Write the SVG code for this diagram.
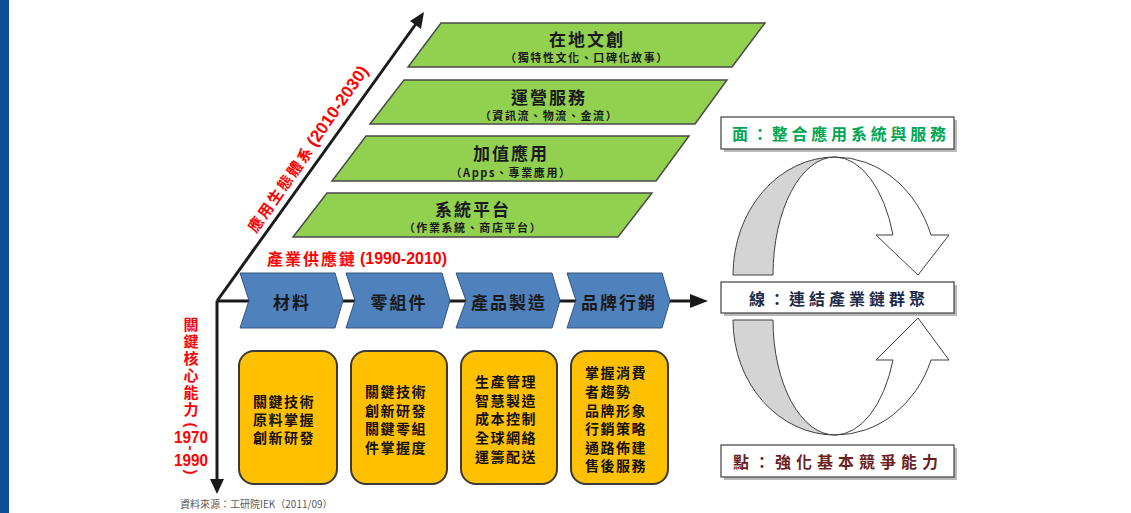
<svg xmlns="http://www.w3.org/2000/svg" width="1131" height="513" viewBox="0 0 1131 513">
<style>
text{font-family:"Noto Sans CJK TC","Noto Sans CJK SC",sans-serif;font-weight:700;dominant-baseline:central}
.para{fill:#92d050;stroke:#4a4a4a;stroke-width:1.5}
.ttl{font-size:17px;letter-spacing:2px;fill:#1a1a1a;text-anchor:middle}
.sub{font-size:11px;letter-spacing:1.6px;fill:#1a1a1a;text-anchor:middle}
.chev{fill:#4f81bd;stroke:#34557f;stroke-width:1}
.ctxt{font-size:17px;letter-spacing:2px;fill:#1a1a1a;text-anchor:middle}
.ybox{fill:#ffc000;stroke:#3a3a3a;stroke-width:2}
.ytxt{font-size:14px;letter-spacing:1.5px;fill:#111}
.red{fill:#ff0000}
.lat{font-family:"Liberation Sans",Arial,sans-serif;font-weight:700}
.vert{writing-mode:vertical-rl}
.axis{stroke:#1a1a1a;stroke-width:3;fill:none}
.ahead{fill:#1a1a1a}
.rbox{fill:#ffffff;stroke:#404040;stroke-width:1.2}
.rshadow{fill:#b8b8b8}
.rtxt{font-size:16px;text-anchor:middle}
.gray{fill:#d4d4d4;stroke:#404040;stroke-width:1}
.white{fill:#ffffff;stroke:#404040;stroke-width:1}
.src{font-size:10px;font-weight:400;fill:#595959}
</style>

<rect x="0" y="0" width="1131" height="513" fill="#ffffff"/>
<rect x="0" y="0" width="9" height="513" fill="#0f4c96"/>

<g id="connectors">
  <line class="axis" x1="217" y1="301" x2="418" y2="21"/>
  <polygon class="ahead" points="424,12 421,29 410,21"/>
  <line class="axis" x1="217" y1="301" x2="692" y2="301"/>
  <polygon class="ahead" points="708,301 690,294 690,308"/>
  <line class="axis" x1="217" y1="301" x2="217" y2="482"/>
  <polygon class="ahead" points="217,494 210,479 224,479"/>
</g>

<g id="axis-labels">
  <g transform="translate(255,224) rotate(-55)">
    <text class="red" x="-7.5" y="0" font-size="15" letter-spacing="2">應用生態體系</text>
    <text class="red lat" x="97" y="0" font-size="17" textLength="94" lengthAdjust="spacingAndGlyphs">(2010-2030)</text>
  </g>
  <text class="red" x="267" y="258" font-size="16" letter-spacing="2">產業供應鏈</text>
  <text class="red lat" x="360" y="258" font-size="17" textLength="87" lengthAdjust="spacingAndGlyphs">(1990-2010)</text>
  <text class="red vert" x="191" y="316.5" font-size="15" letter-spacing="2">關鍵核心能力</text>
  <g text-anchor="middle">
    <text class="red lat" font-size="15" transform="translate(191,425) rotate(90)">(</text>
    <text class="red lat" x="191" y="437" font-size="17" textLength="34" lengthAdjust="spacingAndGlyphs">1970</text>
    <text class="red lat" font-size="15" transform="translate(191,448) rotate(90)">-</text>
    <text class="red lat" x="191" y="460" font-size="17" textLength="34" lengthAdjust="spacingAndGlyphs">1990</text>
    <text class="red lat" font-size="15" transform="translate(191,472) rotate(90)">)</text>
  </g>
</g>

<g id="layer-1">
  <polygon class="para" points="441,23 765,23 732,67 408,67"/>
  <text class="ttl" x="587" y="38">在地文創</text>
  <text class="sub" x="587" y="57">（獨特性文化、口碑化故事）</text>
</g>
<g id="layer-2">
  <polygon class="para" points="404,80 727,80 695,124 370,124"/>
  <text class="ttl" x="549" y="96">運營服務</text>
  <text class="sub" x="549" y="115">（資訊流、物流、金流）</text>
</g>
<g id="layer-3">
  <polygon class="para" points="366,136 689,136 656,181 332,181"/>
  <text class="ttl" x="511" y="152">加值應用</text>
  <text class="sub" x="511" y="172">（Apps、專業應用）</text>
</g>
<g id="layer-4">
  <polygon class="para" points="327,193 652,193 618,237 293,237"/>
  <text class="ttl" x="473" y="208">系統平台</text>
  <text class="sub" x="473" y="227">（作業系統、商店平台）</text>
</g>

<g id="chain-1">
  <polygon class="chev" points="240,273 335,273 343,300.5 335,328 240,328 249,300.5"/>
  <text class="ctxt" x="292" y="301">材料</text>
</g>
<g id="chain-2">
  <polygon class="chev" points="346,273 442,273 450,300.5 442,328 346,328 355,300.5"/>
  <text class="ctxt" x="399" y="301">零組件</text>
</g>
<g id="chain-3">
  <polygon class="chev" points="456,273 552,273 560,300.5 552,328 456,328 466,300.5"/>
  <text class="ctxt" x="509" y="301">產品製造</text>
</g>
<g id="chain-4">
  <polygon class="chev" points="567,273 662,273 670,300.5 662,328 567,328 576,300.5"/>
  <text class="ctxt" x="619" y="301">品牌行銷</text>
</g>

<g id="box-1">
  <rect class="ybox" x="239" y="351" width="98" height="133" rx="15"/>
  <text class="ytxt" x="253" y="401">關鍵技術</text>
  <text class="ytxt" x="253" y="419">原料掌握</text>
  <text class="ytxt" x="253" y="437">創新研發</text>
</g>
<g id="box-2">
  <rect class="ybox" x="351" y="351" width="96" height="133" rx="15"/>
  <text class="ytxt" x="365" y="391">關鍵技術</text>
  <text class="ytxt" x="365" y="410">創新研發</text>
  <text class="ytxt" x="365" y="428">關鍵零組</text>
  <text class="ytxt" x="365" y="447">件掌握度</text>
</g>
<g id="box-3">
  <rect class="ybox" x="461" y="351" width="96" height="133" rx="15"/>
  <text class="ytxt" x="475" y="381">生產管理</text>
  <text class="ytxt" x="475" y="400">智慧製造</text>
  <text class="ytxt" x="475" y="418">成本控制</text>
  <text class="ytxt" x="475" y="437">全球網絡</text>
  <text class="ytxt" x="475" y="456">運籌配送</text>
</g>
<g id="box-4">
  <rect class="ybox" x="571" y="351" width="97" height="133" rx="15"/>
  <text class="ytxt" x="585" y="372">掌握消費</text>
  <text class="ytxt" x="585" y="391">者趨勢</text>
  <text class="ytxt" x="585" y="410">品牌形象</text>
  <text class="ytxt" x="585" y="428">行銷策略</text>
  <text class="ytxt" x="585" y="447">通路佈建</text>
  <text class="ytxt" x="585" y="465">售後服務</text>
</g>

<g id="cycle-upper">
  <path class="gray" d="M733,275 A102,118 0 0,1 835,157 A62,118 0 0,0 773,275 Z"/>
  <path class="white" d="M835,157 A102,118 0 0,1 931,235 L949,235 L918,275 L876,235 L893,235 A62,118 0 0,0 835,157 Z"/>
</g>
<g id="cycle-lower">
  <path class="gray" d="M733,320 A102,115 0 0,0 835,435 A62,115 0 0,1 773,320 Z"/>
  <path class="white" d="M835,435 A102,115 0 0,0 931,360 L949,360 L918,318 L876,360 L893,360 A62,115 0 0,1 835,435 Z"/>
</g>

<g id="surface">
  <rect class="rshadow" x="724" y="120" width="233" height="32"/>
  <rect class="rbox" x="721" y="117" width="233" height="32"/>
  <text class="rtxt" x="841" y="133" fill="#00a651" letter-spacing="3.8">面：整合應用系統與服務</text>
</g>
<g id="line">
  <rect class="rshadow" x="724" y="285" width="233" height="31"/>
  <rect class="rbox" x="721" y="282" width="233" height="31"/>
  <text class="rtxt" x="839" y="298" fill="#1c2a48" letter-spacing="4">線：連結產業鏈群聚</text>
</g>
<g id="point">
  <rect class="rshadow" x="724" y="448" width="233" height="32"/>
  <rect class="rbox" x="721" y="445" width="233" height="32"/>
  <text class="rtxt" x="838" y="461" fill="#6d1f1f" font-size="17" letter-spacing="5">點：強化基本競爭能力</text>
</g>

<text class="src" x="180" y="503">資料來源：工研院IEK（2011/09）</text>
</svg>
